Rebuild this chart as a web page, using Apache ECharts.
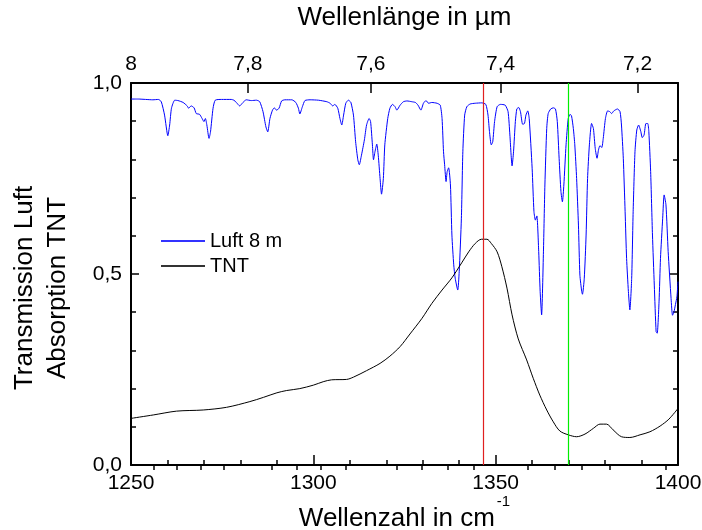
<!DOCTYPE html>
<html>
<head>
<meta charset="utf-8">
<script src="https://cdn.jsdelivr.net/npm/echarts@6/dist/echarts.min.js"></script>
<style>
  html, body { margin: 0; padding: 0; background: #fff; }
  #chart { width: 702px; height: 530px; }
</style>
</head>
<body>
<div id="chart"></div>
<script>
// Air transmission over an 8 m path (wavenumber in cm^-1, transmission 0..1)
const luftWavenumber = [
  1250.0, 1252.0, 1254.0, 1256.0, 1257.5, 1258.3, 1259.2, 1260.1, 1260.6, 1261.1,
  1262.0, 1262.9, 1264.3, 1265.4, 1265.8, 1266.5, 1267.3, 1267.9, 1268.8, 1269.5,
  1270.0, 1270.4, 1270.8, 1271.4, 1271.8, 1272.5, 1273.1, 1274.8, 1277.5, 1278.2,
  1278.9, 1279.8, 1280.7, 1281.6, 1283.0, 1284.4, 1285.3, 1286.2, 1287.0, 1287.5,
  1288.1, 1288.8, 1289.3, 1289.9, 1290.6, 1291.3, 1292.2, 1294.1, 1295.2, 1295.9,
  1296.3, 1297.0, 1297.7, 1299.1, 1301.4, 1303.7, 1304.6, 1305.3, 1305.9, 1306.7,
  1307.3, 1307.8, 1308.3, 1308.9, 1309.6, 1310.3, 1311.0, 1311.6, 1312.2, 1312.6,
  1313.2, 1314.0, 1314.6, 1315.3, 1315.7, 1316.2, 1316.5, 1316.9, 1317.4, 1317.8,
  1318.3, 1318.7, 1319.2, 1319.6, 1320.4, 1321.0, 1321.7, 1322.4, 1322.9, 1323.8,
  1324.7, 1325.7, 1327.0, 1328.0, 1328.7, 1329.5, 1330.2, 1330.9, 1331.6, 1332.5,
  1333.9, 1334.8, 1335.3, 1335.7, 1336.0, 1336.4, 1336.7, 1337.1, 1337.6, 1338.0,
  1338.5, 1338.9, 1339.6, 1340.0, 1340.6, 1341.0, 1341.5, 1342.1, 1343.0, 1344.4,
  1346.2, 1347.3, 1347.9, 1348.3, 1348.8, 1349.2, 1349.7, 1350.4, 1351.3, 1352.6,
  1353.4, 1353.9, 1354.5, 1354.9, 1355.4, 1355.8, 1356.3, 1356.8, 1357.4, 1357.9,
  1358.3, 1358.8, 1359.2, 1360.0, 1360.5, 1360.9, 1361.3, 1361.8, 1362.2, 1362.6,
  1363.1, 1363.5, 1364.0, 1364.4, 1365.1, 1365.8, 1366.4, 1366.9, 1367.4, 1367.9,
  1368.3, 1368.7, 1369.3, 1369.9, 1370.4, 1370.8, 1371.3, 1371.7, 1372.2, 1372.7,
  1373.1, 1373.6, 1373.8, 1374.3, 1374.8, 1375.2, 1375.7, 1376.3, 1376.8, 1377.3,
  1377.8, 1378.2, 1378.6, 1379.1, 1379.5, 1380.1, 1380.7, 1381.3, 1381.8, 1382.4,
  1383.4, 1384.1, 1384.5, 1385.0, 1385.5, 1385.9, 1386.4, 1386.8, 1387.3, 1387.7,
  1388.2, 1388.7, 1389.2, 1389.8, 1390.2, 1390.7, 1391.2, 1391.7, 1392.0, 1392.5,
  1393.0, 1393.5, 1394.0, 1394.3, 1394.8, 1395.2, 1395.8, 1396.2, 1396.7, 1397.3,
  1398.1, 1398.5, 1398.9, 1399.3, 1399.7, 1400.0
];
const luftTransmission = [
  0.958, 0.958, 0.957, 0.956, 0.957, 0.951, 0.916, 0.862, 0.890, 0.934,
  0.955, 0.954, 0.949, 0.940, 0.934, 0.940, 0.935, 0.920, 0.918, 0.907,
  0.899, 0.907, 0.890, 0.855, 0.872, 0.934, 0.955, 0.957, 0.957, 0.955,
  0.949, 0.940, 0.949, 0.956, 0.954, 0.955, 0.951, 0.925, 0.885, 0.872,
  0.907, 0.929, 0.935, 0.929, 0.934, 0.953, 0.956, 0.956, 0.949, 0.934,
  0.919, 0.938, 0.954, 0.956, 0.955, 0.951, 0.947, 0.940, 0.944, 0.934,
  0.907, 0.890, 0.916, 0.947, 0.955, 0.949, 0.916, 0.846, 0.799, 0.786,
  0.811, 0.851, 0.890, 0.907, 0.899, 0.838, 0.799, 0.820, 0.840, 0.811,
  0.750, 0.709, 0.750, 0.838, 0.907, 0.934, 0.944, 0.938, 0.929, 0.942,
  0.951, 0.953, 0.951, 0.949, 0.942, 0.929, 0.947, 0.954, 0.947, 0.949,
  0.947, 0.942, 0.907, 0.820, 0.786, 0.742, 0.768, 0.778, 0.733, 0.602,
  0.524, 0.489, 0.458, 0.506, 0.646, 0.820, 0.916, 0.938, 0.945, 0.947,
  0.948, 0.944, 0.916, 0.873, 0.838, 0.846, 0.899, 0.938, 0.944, 0.942,
  0.925, 0.864, 0.783, 0.820, 0.899, 0.932, 0.936, 0.925, 0.892, 0.894,
  0.916, 0.927, 0.907, 0.777, 0.663, 0.641, 0.652, 0.559, 0.454, 0.393,
  0.558, 0.733, 0.881, 0.920, 0.932, 0.935, 0.932, 0.899, 0.803, 0.716,
  0.689, 0.733, 0.838, 0.907, 0.918, 0.914, 0.881, 0.838, 0.750, 0.628,
  0.497, 0.454, 0.447, 0.489, 0.602, 0.750, 0.838, 0.894, 0.881, 0.829,
  0.803, 0.825, 0.836, 0.831, 0.855, 0.907, 0.927, 0.925, 0.920, 0.927,
  0.932, 0.925, 0.890, 0.803, 0.663, 0.541, 0.454, 0.406, 0.489, 0.663,
  0.820, 0.877, 0.890, 0.873, 0.857, 0.864, 0.894, 0.894, 0.873, 0.768,
  0.602, 0.471, 0.349, 0.345, 0.427, 0.541, 0.646, 0.707, 0.681, 0.559,
  0.436, 0.392, 0.401, 0.420, 0.440, 0.480
];

// TNT absorption spectrum
const tntWavenumber = [
  1250.0, 1256.1, 1262.5, 1269.8, 1276.2, 1282.6, 1286.3, 1290.0, 1292.7, 1296.3,
  1300.0, 1302.7, 1305.0, 1309.1, 1311.0, 1314.6, 1318.3, 1321.0, 1323.8, 1326.5,
  1329.8, 1332.5, 1335.3, 1338.0, 1340.8, 1342.6, 1344.4, 1346.1, 1347.6, 1348.8,
  1350.4, 1351.7, 1353.1, 1354.5, 1356.2, 1358.5, 1360.3, 1362.1, 1364.0, 1365.8,
  1367.6, 1369.9, 1372.2, 1374.5, 1376.8, 1378.6, 1380.4, 1382.2, 1384.5, 1386.8,
  1389.6, 1392.3, 1395.1, 1397.5, 1400.0
];
const tntAbsorption = [
  0.122, 0.131, 0.141, 0.144, 0.151, 0.166, 0.177, 0.189, 0.195, 0.200,
  0.209, 0.218, 0.223, 0.224, 0.230, 0.247, 0.266, 0.285, 0.310, 0.343,
  0.384, 0.423, 0.458, 0.490, 0.531, 0.558, 0.580, 0.591, 0.591, 0.580,
  0.558, 0.519, 0.463, 0.393, 0.330, 0.275, 0.227, 0.183, 0.144, 0.113,
  0.089, 0.079, 0.074, 0.081, 0.096, 0.107, 0.107, 0.092, 0.074, 0.072,
  0.079, 0.087, 0.102, 0.120, 0.148
];

// Wavelength ticks (µm) for the upper axis
const wavelengthMajor = [8, 7.8, 7.6, 7.4, 7.2];
const wavelengthMinor = [
  7.96, 7.92, 7.88, 7.84, 7.76, 7.72, 7.68, 7.64, 7.56, 7.52,
  7.48, 7.44, 7.36, 7.32, 7.28, 7.24, 7.16
];

// Laser lines marked on the spectrum (cm^-1)
const markerWavenumbers = [1346.6, 1370.0];

const FONT = "'Liberation Sans', Arial, sans-serif";
const toWn = (um) => 10000 / um;
const commaDecimal = (v, d) => v.toFixed(d).replace('.', ',');

const chart = echarts.init(document.getElementById('chart'), null, { renderer: 'canvas' });

const black = '#000';
const lineFrame = { color: black, width: 2 };
const tickStyle = { color: black, width: 1.5 };

chart.setOption({
  animation: false,
  backgroundColor: '#fff',
  textStyle: { fontFamily: FONT, color: black },
  grid: { left: 131, right: 24, top: 83, bottom: 65, containLabel: false, outerBoundsMode: 'none' },
  legend: {
    data: ['Luft 8 m', 'TNT'],
    orient: 'vertical',
    left: 156,
    top: 226,
    padding: 5,
    icon: 'rect',
    itemWidth: 44,
    itemHeight: 2,
    itemGap: 5,
    textStyle: { fontFamily: FONT, fontSize: 20, color: black, lineHeight: 19 },
    selectedMode: false
  },
  xAxis: [
    {
      type: 'value', position: 'bottom', min: 1250, max: 1400, interval: 50,
      axisLine: { show: true, onZero: false, lineStyle: lineFrame },
      axisTick: { show: true, inside: true, length: 10, lineStyle: tickStyle },
      minorTick: { show: true, splitNumber: 5, length: 5, lineStyle: tickStyle },
      axisLabel: { color: black, fontSize: 21, fontFamily: FONT, margin: 8,
                   formatter: (v) => String(v) },
      splitLine: { show: false },
      name: '{a|Wellenzahl in cm}{s|-1}',
      nameLocation: 'middle',
      nameGap: 29,
      nameMoveOverlap: false,
      nameTextStyle: {
        color: black,
        rich: {
          a: { fontSize: 26, fontFamily: FONT, color: black, padding: [12, 0, 0, 0], verticalAlign: 'bottom' },
          s: { fontSize: 15, fontFamily: FONT, color: black, verticalAlign: 'top', padding: [0, 0, 0, 2] }
        }
      }
    },
    {
      type: 'value', position: 'top', min: 1250, max: 1400,
      axisLine: { show: true, onZero: false, lineStyle: lineFrame },
      axisTick: { show: true, inside: true, length: 10, lineStyle: tickStyle,
                  customValues: wavelengthMajor.map(toWn) },
      axisLabel: {
        color: black, fontSize: 21, fontFamily: FONT, margin: 8,
        customValues: wavelengthMajor.map(toWn),
        formatter: (v) => {
          const um = Math.round(10000 / v * 10) / 10;
          return Number.isInteger(um) ? String(um) : commaDecimal(um, 1);
        }
      },
      splitLine: { show: false },
      name: 'Wellenlänge in µm',
      nameLocation: 'middle',
      nameGap: 52,
      nameMoveOverlap: false,
      nameTextStyle: { color: black, fontSize: 26, fontFamily: FONT }
    },
    {
      type: 'value', position: 'top', min: 1250, max: 1400,
      axisLine: { show: false },
      axisTick: { show: true, inside: true, length: 5, lineStyle: tickStyle,
                  customValues: wavelengthMinor.map(toWn) },
      axisLabel: { show: false },
      splitLine: { show: false }
    }
  ],
  yAxis: [
    {
      type: 'value', position: 'left', min: 0, max: 1, interval: 0.5,
      axisLine: { show: true, onZero: false, lineStyle: lineFrame },
      axisTick: { show: true, inside: true, length: 8, lineStyle: tickStyle },
      minorTick: { show: true, splitNumber: 5, length: 5, lineStyle: tickStyle },
      axisLabel: { color: black, fontSize: 21, fontFamily: FONT, margin: 9,
                   formatter: (v) => commaDecimal(v, 1) },
      splitLine: { show: false },
      name: 'Transmission Luft\nAbsorption TNT',
      nameLocation: 'middle',
      nameGap: 57,
      nameMoveOverlap: false,
      nameTextStyle: { color: black, fontSize: 26, fontFamily: FONT, lineHeight: 33,
                       padding: [0, 28, 0, 0] }
    },
    {
      type: 'value', position: 'right', min: 0, max: 1, interval: 0.5,
      axisLine: { show: true, onZero: false, lineStyle: lineFrame },
      axisTick: { show: true, inside: true, length: 8, lineStyle: tickStyle },
      minorTick: { show: true, splitNumber: 5, length: 5, lineStyle: tickStyle },
      axisLabel: { show: false },
      splitLine: { show: false }
    }
  ],
  series: [
    {
      name: 'Luft 8 m',
      type: 'line',
      xAxisIndex: 0, yAxisIndex: 0,
      data: luftWavenumber.map((x, i) => [x, luftTransmission[i]]),
      symbol: 'none', showSymbol: false,
      smooth: 0.2,
      lineStyle: { color: '#0000ff', width: 1 },
      itemStyle: { color: '#3333ff' },
      z: 3
    },
    {
      name: 'TNT',
      type: 'line',
      xAxisIndex: 0, yAxisIndex: 0,
      data: tntWavenumber.map((x, i) => [x, tntAbsorption[i]]),
      symbol: 'none', showSymbol: false,
      smooth: 0.3,
      lineStyle: { color: black, width: 1 },
      itemStyle: { color: '#333' },
      z: 3,
      markLine: {
        silent: true,
        symbol: 'none',
        label: { show: false },
        animation: false,
        lineStyle: { type: 'solid', width: 1.2 },
        data: [
          { xAxis: markerWavenumbers[0], lineStyle: { color: '#e02020', width: 1.2, type: 'solid' } },
          { xAxis: markerWavenumbers[1], lineStyle: { color: '#00ee00', width: 1.2, type: 'solid' } }
        ]
      }
    }
  ]
});
</script>
</body>
</html>
